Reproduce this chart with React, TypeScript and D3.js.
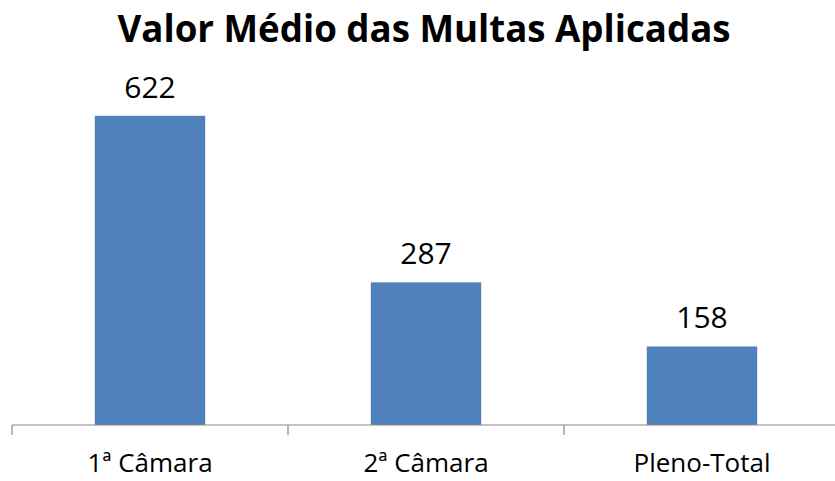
import { useEffect, useRef } from "react"
import * as d3 from "d3"

const categories = ["1ª Câmara", "2ª Câmara", "Pleno-Total"]
const values = [622, 287, 158]
const title = "Valor Médio das Multas Aplicadas"

export default function App() {
  const svgRef = useRef<SVGSVGElement>(null)

  useEffect(() => {
    const svg = d3.select(svgRef.current)
    const width = 835
    const height = 481
    const font = "'Open Sans', Lato, sans-serif"
    svg.selectAll("*").remove()

    const x = d3.scaleBand().domain(categories).range([12, 840]).paddingInner(0.6).paddingOuter(0.3)
    const cells = d3.scaleBand().domain(categories).range([12, 840])
    const y = d3.scaleLinear().domain([0, 700]).range([425, 77])

    svg.append("text")
      .attr("x", 424)
      .attr("y", 42)
      .attr("text-anchor", "middle")
      .attr("font-family", font)
      .attr("font-weight", "bold")
      .attr("font-size", 37)
      .attr("textLength", 613)
      .attr("lengthAdjust", "spacingAndGlyphs")
      .attr("fill", "#000")
      .text(title)

    const data = categories.map((c, i) => ({ c, v: values[i] }))

    svg.selectAll("rect.bar")
      .data(data)
      .join("rect")
      .attr("class", "bar")
      .attr("x", d => x(d.c)!)
      .attr("width", x.bandwidth())
      .attr("y", d => y(d.v))
      .attr("height", d => y(0) - y(d.v))
      .attr("fill", "#4F81BD")

    svg.selectAll("text.val")
      .data(data)
      .join("text")
      .attr("class", "val")
      .attr("x", d => x(d.c)! + x.bandwidth() / 2)
      .attr("y", d => y(d.v) - 18)
      .attr("text-anchor", "middle")
      .attr("font-family", font)
      .attr("font-size", 30)
      .attr("fill", "#000")
      .text(d => d.v)

    // eixo
    const g = svg.append("g").attr("stroke", "#868686").attr("stroke-width", 1.2)
    g.append("line")
      .attr("x1", 12).attr("x2", width)
      .attr("y1", y(0)).attr("y2", y(0))
    const bounds = [...categories.map(c => cells(c)!), 840]
    g.selectAll("line.tick")
      .data(bounds)
      .join("line")
      .attr("class", "tick")
      .attr("x1", d => d).attr("x2", d => d)
      .attr("y1", y(0)).attr("y2", y(0) + 10)

    svg.selectAll("text.cat")
      .data(categories)
      .join("text")
      .attr("class", "cat")
      .attr("x", d => cells(d)! + cells.bandwidth() / 2)
      .attr("y", 472)
      .attr("text-anchor", "middle")
      .attr("font-family", font)
      .attr("font-size", 26)
      .attr("fill", "#000")
      .text(d => d)

    svg.attr("viewBox", [0, 0, width, height])
  }, [])

  return (
    <svg
      ref={svgRef}
      width={835}
      height={481}
      style={{ position: "absolute", left: 0, top: 0, background: "#fff" }}
    />
  )
}
